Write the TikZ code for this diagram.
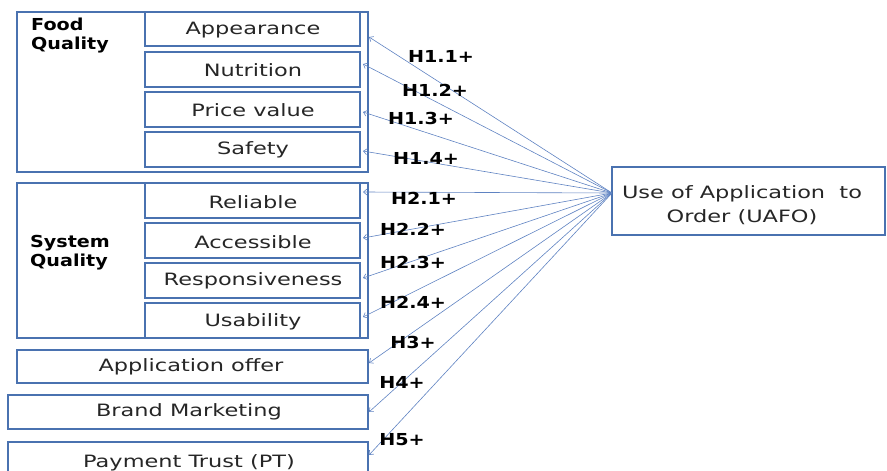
\documentclass[tikz,border=0pt]{standalone}
\usepackage{fontspec}
\setmainfont{DejaVu Sans}
\newfontfamily\regwide[FakeStretch=1.32]{DejaVu Sans}
\newfontfamily\boldwide[FakeStretch=1.16]{DejaVu Sans Bold}
\usetikzlibrary{arrows.meta}
\definecolor{boxblue}{HTML}{4A72B0}
\definecolor{arrblue}{HTML}{5F83C2}
\definecolor{txt}{HTML}{262626}
\tikzset{
  boxline/.style={draw=boxblue, line width=1.6pt},
  boxtext/.style={font=\regwide\fontsize{17}{24}\selectfont, text=txt, align=center, inner sep=0pt},
  grouptext/.style={font=\boldwide\fontsize{16.5}{19}\selectfont, text=black, align=left, inner sep=0pt, anchor=north west},
  hlabel/.style={font=\boldwide\fontsize{16.5}{19}\selectfont, text=black, inner sep=0pt},
  hyp/.style={draw=arrblue, line width=0.6pt, -{Straight Barb[length=3.5pt,width=6pt]}}
}
\begin{document}
\begin{tikzpicture}[x=1pt,y=-1pt]
\useasboundingbox (0,0) rectangle (887,471);
\begin{scope}
\clip (0,0) rectangle (887,471);
% Food Quality group
\draw[boxline] (17,12) rectangle (368,172);
\node[grouptext] (fq) at (31,18) {Food\\Quality};
\draw[boxline] (145,12) rectangle (360,46);
\draw[boxline] (145,52) rectangle (360,87);
\draw[boxline] (145,92) rectangle (360,127);
\draw[boxline] (145,132) rectangle (360,167);
\node[boxtext] (app) at (253,30) {Appearance};
\node[boxtext] (nut) at (253,70) {Nutrition};
\node[boxtext] (pri) at (253,110) {Price value};
\node[boxtext] (saf) at (253,150) {Safety};
% System Quality group
\draw[boxline] (17,183) rectangle (368,338);
\node[grouptext] (sq) at (30,235) {System\\Quality};
\draw[boxline] (145,183) rectangle (360,218);
\draw[boxline] (145,223) rectangle (360,258);
\draw[boxline] (145,263) rectangle (360,298);
\draw[boxline] (145,303) rectangle (360,338);
\node[boxtext] (rel) at (253,202) {Reliable};
\node[boxtext] (acc) at (253,242) {Accessible};
\node[boxtext] (res) at (253,281) {Responsiveness};
\node[boxtext] (usa) at (253,322) {Usability};
% standalone boxes
\draw[boxline] (17,350) rectangle (368,383);
\node[boxtext] (off) at (191,367) {Application offer};
\draw[boxline] (8,395) rectangle (368,429);
\node[boxtext] (bra) at (189,412) {Brand Marketing};
\draw[boxline] (8,442) rectangle (368,480);
\node[boxtext] (pay) at (189,463) {Payment Trust (PT)};
% UAFO
\draw[boxline] (612,167) rectangle (885,235);
\node[boxtext] (uafo) at (742,205) {Use of Application\ \ to\\Order (UAFO)};
\coordinate (hub) at (612,193);
% arrow ends
\coordinate (e11) at (369,37);
\coordinate (e12) at (363,64);
\coordinate (e13) at (363,112);
\coordinate (e14) at (363,151);
\coordinate (e21) at (363,192);
\coordinate (e22) at (363,238);
\coordinate (e23) at (363,278);
\coordinate (e24) at (363,317);
\coordinate (e3) at (369,363);
\coordinate (e4) at (369,412);
\coordinate (e5) at (369,455);
\foreach \e in {e11,e12,e13,e14,e21,e22,e23,e24,e3,e4,e5}
  \draw[hyp] (hub) -- (\e);
\end{scope}
% labels
\node[hlabel] (l11) at (441,56) {H1.1+};
\node[hlabel] (l12) at (435,90) {H1.2+};
\node[hlabel] (l13) at (421,118) {H1.3+};
\node[hlabel] (l14) at (426,158) {H1.4+};
\node[hlabel] (l21) at (424,198) {H2.1+};
\node[hlabel] (l22) at (413,229) {H2.2+};
\node[hlabel] (l23) at (413,262) {H2.3+};
\node[hlabel] (l24) at (413,302) {H2.4+};
\node[hlabel] (l3) at (413,342) {H3+};
\node[hlabel] (l4) at (402,382) {H4+};
\node[hlabel] (l5) at (402,440) {H5+};
\end{tikzpicture}
\end{document}
